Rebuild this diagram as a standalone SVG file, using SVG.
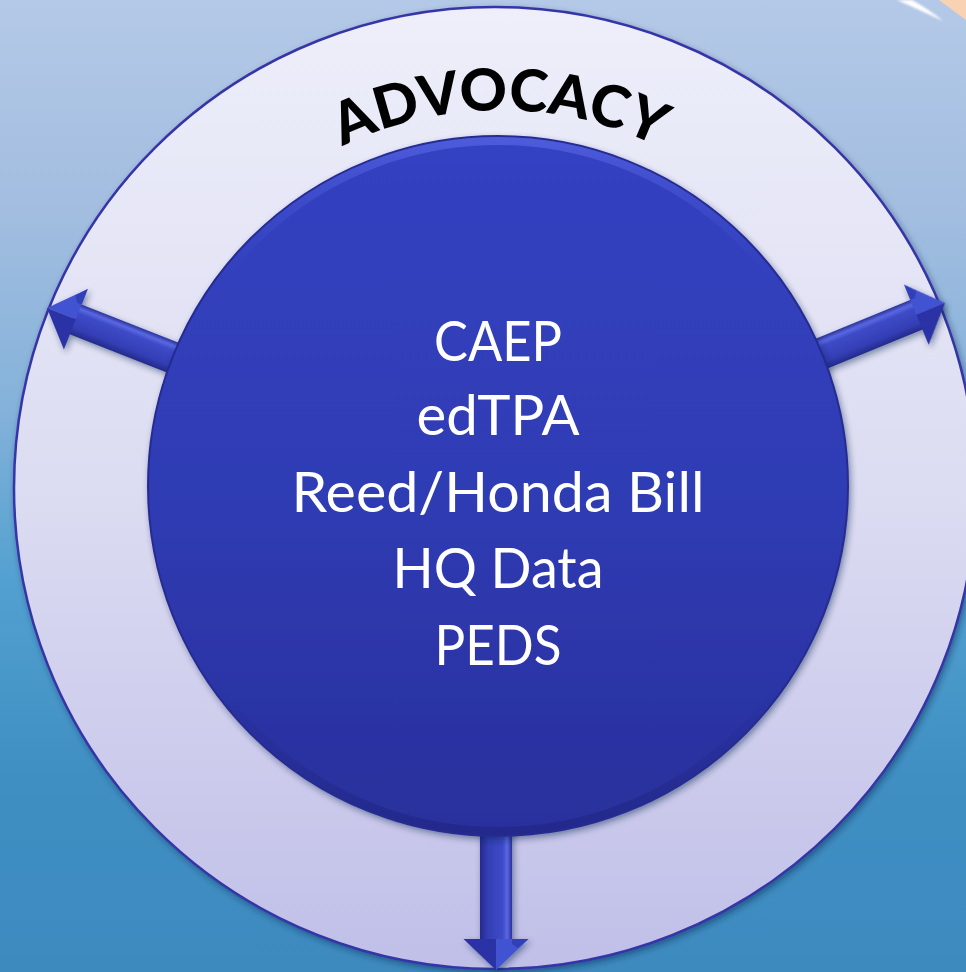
<svg xmlns="http://www.w3.org/2000/svg" width="966" height="972" viewBox="0 0 966 972">
<defs>
<linearGradient id="bg" x1="0" y1="0" x2="0" y2="1">
<stop offset="0" stop-color="#b4c9e7"/>
<stop offset="0.22" stop-color="#a2bde0"/>
<stop offset="0.42" stop-color="#84b2da"/>
<stop offset="0.6" stop-color="#52a0d0"/>
<stop offset="0.8" stop-color="#3f8fc3"/>
<stop offset="1" stop-color="#3d8abf"/>
</linearGradient>
<linearGradient id="ring" x1="0" y1="0" x2="0" y2="1">
<stop offset="0" stop-color="#eeeffa"/>
<stop offset="0.5" stop-color="#dcdcf2"/>
<stop offset="1" stop-color="#c0bfe8"/>
</linearGradient>
<linearGradient id="core" x1="0" y1="0" x2="0" y2="1">
<stop offset="0" stop-color="#3242c2"/>
<stop offset="0.5" stop-color="#2f3cb4"/>
<stop offset="1" stop-color="#2a2f9c"/>
</linearGradient>
<linearGradient id="rim" x1="0" y1="0" x2="0" y2="1">
<stop offset="0" stop-color="#5866e4" stop-opacity="0.7"/>
<stop offset="0.2" stop-color="#4050d0" stop-opacity="0"/>
<stop offset="0.8" stop-color="#1e2480" stop-opacity="0"/>
<stop offset="1" stop-color="#1e2480" stop-opacity="0.6"/>
</linearGradient>
<linearGradient id="shaft" gradientUnits="userSpaceOnUse" x1="0" y1="-16" x2="0" y2="16">
<stop offset="0" stop-color="#2a3198"/>
<stop offset="0.15" stop-color="#5a68e2"/>
<stop offset="0.3" stop-color="#3d4ac6"/>
<stop offset="0.75" stop-color="#343fb6"/>
<stop offset="1" stop-color="#242a8c"/>
</linearGradient>
<filter id="shadow" x="-10%" y="-10%" width="120%" height="120%">
<feDropShadow dx="2" dy="3" stdDeviation="3" flood-color="#10204a" flood-opacity="0.45"/>
</filter>
<filter id="soft"><feGaussianBlur stdDeviation="0.8"/></filter>
<g id="arrowShape">
<rect x="-420" y="-16" width="392" height="32" fill="url(#shaft)"/>
<polygon points="0,0 -31,-32.5 -31,0" fill="#4352d2"/>
<polygon points="0,0 -31,0 -31,32.5" fill="#2b33a6"/>
<polygon points="-31,-32.5 -31,-16 -26,-16 -22,-22" fill="#3140b8"/>
</g>
<path id="arcText" d="M 269 194 A 360 360 0 0 1 731 194" fill="none"/>
</defs>
<style>
.core-text { font-family: Lato, "Open Sans", "Liberation Sans", sans-serif; font-size: 57px; fill: #ffffff; text-anchor: middle; }
.title { font-family: Lato, "Open Sans", "Liberation Sans", sans-serif; font-weight: 900; font-size: 58px; fill: #000000; }
</style>
<rect width="966" height="972" fill="url(#bg)"/>
<polygon points="939,0 966,0 966,20" fill="#f9d2b4"/>
<path d="M 897 0 L 912 0 Q 930 10 943 21 Q 922 11 897 0 Z" fill="#ffffff" filter="url(#soft)"/>
<g id="outer-ring">
<circle cx="495" cy="488" r="481" fill="url(#ring)" stroke="#3636a8" stroke-width="2.5" filter="url(#shadow)"/>
<text class="title"><textPath href="#arcText" startOffset="50%" text-anchor="middle" textLength="326" lengthAdjust="spacingAndGlyphs">ADVOCACY</textPath></text>
</g>
<g id="connectors" filter="url(#shadow)">
<use href="#arrowShape" transform="translate(47,308) rotate(201.5) scale(1,-1)"/>
<use href="#arrowShape" transform="translate(945,303) rotate(-22.3)"/>
<use href="#arrowShape" transform="translate(496,970) rotate(90)"/>
</g>
<g id="core">
<circle cx="498" cy="486" r="350" fill="url(#core)" stroke="#262c92" stroke-width="2" filter="url(#shadow)"/>
<circle cx="498" cy="486" r="345" fill="none" stroke="url(#rim)" stroke-width="8"/>
<text class="core-text" x="498" y="361" textLength="128" lengthAdjust="spacingAndGlyphs">CAEP</text>
<text class="core-text" x="498" y="435" textLength="163" lengthAdjust="spacingAndGlyphs">edTPA</text>
<text class="core-text" x="498" y="512" textLength="413" lengthAdjust="spacingAndGlyphs">Reed/Honda Bill</text>
<text class="core-text" x="498" y="588" textLength="211" lengthAdjust="spacingAndGlyphs">HQ Data</text>
<text class="core-text" x="498" y="665" textLength="127" lengthAdjust="spacingAndGlyphs">PEDS</text>
</g>
</svg>
